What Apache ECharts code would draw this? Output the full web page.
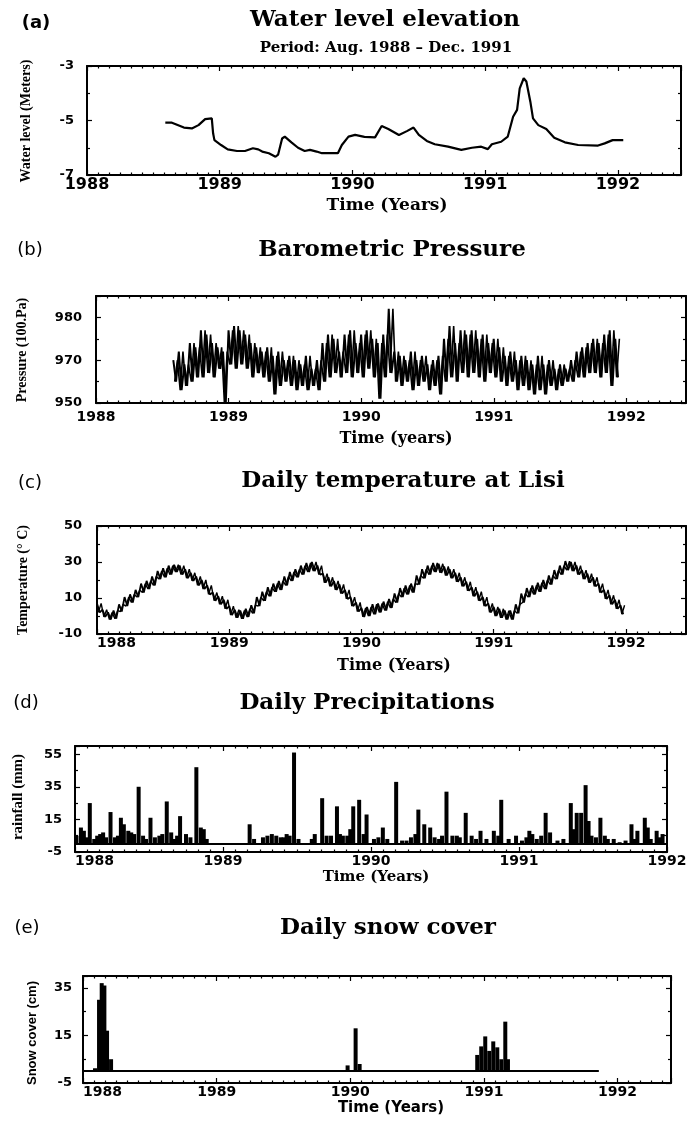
<!DOCTYPE html>
<html><head><meta charset="utf-8">
<script src="https://cdn.jsdelivr.net/npm/echarts@6/dist/echarts.min.js"></script>
<style>html,body{margin:0;padding:0;background:#fff}#c{width:687px;height:1124px}</style>
</head><body><div id="c"></div>
<script>
// ---------------- DATA ----------------
const yearLabels = [1988, 1989, 1990, 1991, 1992];

// (a) Water level (m)
const waterYears = [1988.59,1988.64,1988.73,1988.79,1988.84,1988.89,1988.94,1988.95,1988.96,1989.01,1989.06,1989.13,1989.19,1989.25,1989.29,1989.32,1989.37,1989.42,1989.44,1989.47,1989.49,1989.54,1989.59,1989.64,1989.68,1989.73,1989.77,1989.89,1989.92,1989.97,1990.02,1990.09,1990.17,1990.22,1990.27,1990.35,1990.41,1990.46,1990.50,1990.56,1990.62,1990.72,1990.82,1990.90,1990.97,1991.02,1991.05,1991.12,1991.17,1991.21,1991.24,1991.26,1991.29,1991.31,1991.34,1991.36,1991.40,1991.46,1991.52,1991.60,1991.70,1991.85,1991.90,1991.96,1992.04];
const waterLevel = [-5.08,-5.08,-5.26,-5.29,-5.17,-4.95,-4.92,-5.47,-5.72,-5.90,-6.06,-6.12,-6.12,-6.02,-6.06,-6.14,-6.20,-6.33,-6.25,-5.66,-5.59,-5.80,-6.00,-6.12,-6.08,-6.14,-6.20,-6.20,-5.90,-5.59,-5.53,-5.60,-5.62,-5.20,-5.31,-5.53,-5.39,-5.26,-5.53,-5.75,-5.87,-5.96,-6.08,-6.00,-5.96,-6.05,-5.87,-5.78,-5.59,-4.86,-4.61,-3.82,-3.45,-3.57,-4.31,-4.92,-5.17,-5.31,-5.63,-5.80,-5.90,-5.92,-5.84,-5.72,-5.72];

// (b) Barometric pressure: half-monthly high / low readings
const pressureStart = 1988.583;
const pressureStep = 1 / 24;
const pressureHigh = [970,972,969,974,973,977,976,974,973,972,977,978,977,976,974,973,972,973,971,972,970,971,970,969,971,968,970,974,976,975,972,976,977,974,976,977,975,974,976,982,972,971,970,972,970,971,969,970,971,975,978,974,977,976,977,975,976,974,975,973,971,972,970,971,970,969,971,969,970,968,969,968,970,972,973,974,975,974,976,977,975];
const pressureLow = [965,963,964,965,966,966,967,966,968,960,969,968,969,968,966,967,966,965,962,964,965,964,963,964,963,964,963,965,966,967,966,967,966,967,966,968,966,961,966,967,965,964,965,963,964,965,963,964,962,965,966,965,967,966,967,966,965,967,966,965,964,965,963,964,963,962,963,962,964,963,964,965,965,966,966,967,967,966,967,964,966];
const pressureTickText = {960: '950', 970: '970', 980: '980'};

// (c) Daily temperature: half-monthly high / low readings (deg C)
const tempStart = 1988.0;
const tempStep = 1 / 24;
const tempHigh = [7,3.5,2,3,6.5,10.5,12,14.5,18,19.5,22,25,26.5,28,28.5,28,26,24,22,20,17,13,11,9,5.5,3.5,3,4,6,10.5,13.5,16,18,19.5,22,24.5,26,28,29.5,30,28,23.5,21.5,19.5,17.5,14.5,10.5,7.5,4.5,5,6.5,7,8,9.5,12.5,15.5,17,18,22.5,26,28,29.5,29,27.5,26,24,21.5,19,16,13.5,10.5,7,5,4,3,3,6.5,12.5,15.5,17,18.5,20,22.5,25.5,28,30.5,30,28,25.5,23.5,21.5,18,14.5,11.5,9,6];
const tempLow = [2,-0.5,-2,-1.5,2.5,5.5,7.5,10.5,13,15,17,20.5,21.5,23,24.5,23,21,19.5,17,15,12,8.5,6.5,4,0.5,-1,-1.5,-0.5,1.5,5.5,8.5,11,13.5,14.5,17,19.5,21.5,23,24.5,25,23,18.5,16.5,14.5,12.5,9.5,5.5,2.5,-0.5,0,1,2,3,4.5,7.5,10.5,12,13,17.5,21,23,24.5,24,22.5,21,19,16.5,14,11,8.5,5.5,2,0,-1,-2,-2,1.5,7.5,10.5,12,13.5,15,17.5,20.5,23,25.5,25,23,20.5,18.5,16.5,13,9.5,6.5,4,1];

// (d) Daily precipitation (mm)
const precipYears = [1988.01,1988.04,1988.06,1988.10,1988.13,1988.17,1988.19,1988.21,1988.24,1988.27,1988.31,1988.33,1988.36,1988.38,1988.43,1988.46,1988.51,1988.54,1988.57,1988.62,1988.65,1988.67,1988.71,1988.78,1988.82,1988.85,1988.87,1989.18,1989.21,1989.30,1989.33,1989.36,1989.39,1989.43,1989.48,1989.51,1989.62,1989.67,1989.70,1989.77,1989.81,1989.84,1989.88,1989.92,1989.97,1990.02,1990.08,1990.17,1990.21,1990.27,1990.32,1990.36,1990.40,1990.43,1990.48,1990.51,1990.55,1990.58,1990.64,1990.68,1990.74,1990.78,1990.83,1990.88,1990.93,1990.98,1991.02,1991.07,1991.09,1991.18,1991.21,1991.26,1991.35,1991.39,1991.42,1991.45,1991.49,1991.55,1991.60,1991.64,1991.68,1991.76,1991.80,1991.85,1991.89,1991.93,1991.97,
  1988.08,1988.15,1988.29,1988.40,1988.48,1988.59,1988.69,1988.75,1988.89,1989.27,1989.41,1989.45,1989.60,1989.73,1989.79,1989.86,1989.95,1990.05,1990.11,1990.24,1990.30,1990.46,1990.60,1990.71,1990.86,1991.05,1991.12,1991.15,1991.30,1991.37,1991.47,1991.52,1991.58,1991.72,1991.78,1991.87,1991.95];
const precipMm = [5,10,8,25,3,6,7,4,19.5,4,16,12,8,7,35,5,16,4,5,26,7,3,17,4,47,10,9,12,3,5,6,5,4,6,56,3,6,28,5,23,5,5,23,27,18,3,10,38,2,4,21,12,10,4,5,32,5,5,19,5,8,3,8,27,3,5,2,8,6,19,7,2,25,19,19,36,5,16,3,3,1,12,8,16,3,8,6,
  4,5,5,6,3,6,5,6,3,4,4,5,3,5,6,9,6,4,3,2,6,3,4,3,5,4,3,5,3,9,14,4,5,2,3,10,4];

// (e) Daily snow cover (cm)
const snowYears = [1988.09,1988.12,1988.14,1988.16,1988.18,1988.21,1989.98,1990.04,1990.07,1990.95,1990.98,1991.01,1991.04,1991.07,1991.10,1991.13,1991.16,1991.18];
const snowCm = [1.2,30,37,36,17,5,2.4,18,3,6.8,10.4,14.6,8.5,12.5,10,5,20.8,5];
const snowSpan = [1988.0, 1991.86];

// ---------------- BUILD ----------------
// hi/lo readings drawn as a dense up-down trace (two interleaved passes)
function zigzag(start, step, hi, lo, phase) {
  const out = [];
  for (let i = 0; i < hi.length; i++) {
    const t = start + i * step + phase * step;
    if (phase === 0) { out.push([t, hi[i]]); out.push([t + step / 2, lo[i]]); }
    else { out.push([t, lo[i]]); out.push([t + step / 2, hi[i]]); }
  }
  return out;
}
const pairs = (xs, ys) => xs.map((x, i) => [x, ys[i]]);

const grids = [
  {left: 87, top: 66, width: 594, height: 109, xmax: 1992.475, ymin: -7, ymax: -3, yint: 2, xfs: 16, xmargin: 2, ymargin: 13, alignMin: 'center'},
  {left: 96, top: 296, width: 590, height: 107, xmax: 1992.45, ymin: 960, ymax: 985, yint: 10, xfs: 14, xmargin: 7, ymargin: 14, alignMin: 'center'},
  {left: 97, top: 526, width: 589, height: 108, xmax: 1992.454, ymin: -10, ymax: 50, yint: 20, xfs: 14, xmargin: 2, ymargin: 15, alignMin: 'left'},
  {left: 75, top: 746, width: 592, height: 106, xmax: 1992, ymin: -5, ymax: 60, yint: 20, xfs: 14, xmargin: 2, ymargin: 13, alignMin: 'left'},
  {left: 83, top: 976, width: 588, height: 107, xmax: 1992.4, ymin: -5, ymax: 40, yint: 20, xfs: 14, xmargin: 2, ymargin: 11, alignMin: 'left'}
];

const lineS = {color: '#000', width: 2};
const tickS = {color: '#000', width: 1.2};
const xAxes = [], yAxes = [];
grids.forEach((g, i) => {
  const xl = {
    type: 'value', gridIndex: i, min: 1988, max: g.xmax, interval: 1,
    axisLine: {show: true, onZero: false, lineStyle: lineS},
    splitLine: {show: false},
    axisTick: {show: true, inside: true, length: 5, lineStyle: tickS},
    minorTick: {show: true, splitNumber: 12, length: 2.5, lineStyle: tickS}
  };
  xAxes.push(Object.assign({}, xl, {
    position: 'bottom',
    axisLabel: {show: true, margin: g.xmargin, color: '#000', fontFamily: 'DejaVu Sans', fontWeight: 'bold', fontSize: g.xfs,
      alignMinLabel: g.alignMin,
      formatter: v => (Math.abs(v - Math.round(v)) < 1e-6 && yearLabels.indexOf(Math.round(v)) >= 0) ? String(Math.round(v)) : ''}
  }));
  xAxes.push(Object.assign({}, xl, {position: 'top', axisLabel: {show: false}}));
  const yl = {
    type: 'value', gridIndex: i, min: g.ymin, max: g.ymax, interval: g.yint,
    axisLine: {show: true, onZero: false, lineStyle: lineS},
    splitLine: {show: false},
    axisTick: {show: true, inside: true, length: 5, lineStyle: tickS},
    minorTick: {show: true, splitNumber: 2, length: 3, lineStyle: tickS}
  };
  yAxes.push(Object.assign({}, yl, {
    position: 'left',
    axisLabel: {show: true, margin: g.ymargin, color: '#000', fontFamily: 'DejaVu Sans', fontWeight: 'bold', fontSize: 13,
      formatter: v => {
        if (i === 1) return pressureTickText[v] || '';
        const k = Math.round((v - g.ymin) / g.yint);
        return Math.abs(g.ymin + k * g.yint - v) < 1e-6 ? String(v) : '';
      }}
  }));
  yAxes.push(Object.assign({}, yl, {position: 'right', axisLabel: {show: false}}));
});

function txt(x, y, text, font, rot) {
  return {type: 'text', x: x, y: y, rotation: rot || 0, silent: true,
    style: {text: text, fill: '#000', align: 'center', verticalAlign: 'middle', font: font}};
}
const serifTitle = 'bold 23px "DejaVu Serif"';
const graphics = [
  txt(36, 23, '(a)', 'bold 18px "DejaVu Sans"'),
  txt(385, 20, 'Water level elevation', serifTitle),
  txt(386, 48, 'Period: Aug. 1988 \u2013 Dec. 1991', 'bold 15px "DejaVu Serif"'),
  txt(26, 121, 'Water level (Meters)', 'bold 14px "Liberation Serif"', Math.PI / 2),
  txt(387, 206, 'Time (Years)', 'bold 17px "DejaVu Serif"'),

  txt(30, 250, '(b)', '18px "DejaVu Sans"'),
  txt(392, 250, 'Barometric Pressure', serifTitle),
  txt(22, 350, 'Pressure (100.Pa)', 'bold 14px "Liberation Serif"', Math.PI / 2),
  txt(396, 439, 'Time (years)', 'bold 16px "DejaVu Serif"'),

  txt(30, 483, '(c)', '18px "DejaVu Sans"'),
  txt(403, 481, 'Daily temperature at Lisi', serifTitle),
  txt(23, 580, 'Temperature (\u00b0 C)', 'bold 14px "Liberation Serif"', Math.PI / 2),
  txt(394, 666, 'Time (Years)', 'bold 16px "DejaVu Serif"'),

  txt(26, 703, '(d)', '18px "DejaVu Sans"'),
  txt(367, 703, 'Daily Precipitations', serifTitle),
  txt(18, 797, 'rainfall (mm)', 'bold 15px "Liberation Serif"', Math.PI / 2),
  txt(376, 877, 'Time (Years)', 'bold 15px "DejaVu Serif"'),

  txt(27, 928, '(e)', '18px "DejaVu Sans"'),
  txt(388, 928, 'Daily snow cover', serifTitle),
  txt(32, 1033, 'Snow cover (cm)', 'bold 13px "Liberation Sans"', Math.PI / 2),
  txt(391, 1108, 'Time (Years)', 'bold 15px "DejaVu Sans"')
];

const traceStyle = w => ({color: '#000', width: w});
const option = {
  animation: false,
  backgroundColor: '#fff',
  grid: grids.map(g => ({left: g.left, top: g.top, width: g.width, height: g.height, containLabel: false, outerBoundsMode: 'none', show: false})),
  xAxis: xAxes,
  yAxis: yAxes,
  graphic: graphics,
  series: [
    {type: 'line', name: 'Water level', xAxisIndex: 0, yAxisIndex: 0, data: pairs(waterYears, waterLevel),
      showSymbol: false, lineStyle: traceStyle(2.2)},
    {type: 'line', name: 'Pressure', xAxisIndex: 2, yAxisIndex: 2, data: zigzag(pressureStart, pressureStep, pressureHigh, pressureLow, 0),
      showSymbol: false, lineStyle: traceStyle(2)},
    {type: 'line', name: 'Pressure (2)', xAxisIndex: 2, yAxisIndex: 2, data: zigzag(pressureStart, pressureStep, pressureHigh, pressureLow, 0.25),
      showSymbol: false, lineStyle: traceStyle(1.6)},
    {type: 'line', name: 'Temperature', xAxisIndex: 4, yAxisIndex: 4, data: zigzag(tempStart, tempStep, tempHigh, tempLow, 0),
      showSymbol: false, lineStyle: traceStyle(1.8)},
    {type: 'line', name: 'Temperature (2)', xAxisIndex: 4, yAxisIndex: 4, data: zigzag(tempStart, tempStep, tempHigh, tempLow, 0.25),
      showSymbol: false, lineStyle: traceStyle(1.4)},
    {type: 'bar', name: 'Precipitation', xAxisIndex: 6, yAxisIndex: 6, data: pairs(precipYears, precipMm),
      barWidth: 4, itemStyle: {color: '#000'},
      markLine: {silent: true, symbol: 'none', label: {show: false}, lineStyle: {color: '#000', width: 2, type: 'solid'},
        data: [{yAxis: 0}]}},
    {type: 'bar', name: 'Snow cover', xAxisIndex: 8, yAxisIndex: 8, data: pairs(snowYears, snowCm),
      barWidth: 4, itemStyle: {color: '#000'},
      markLine: {silent: true, symbol: 'none', label: {show: false}, lineStyle: {color: '#000', width: 2, type: 'solid'},
        data: [[{coord: [snowSpan[0], 0]}, {coord: [snowSpan[1], 0]}]]}}
  ]
};
const chart = echarts.init(document.getElementById('c'), null, {renderer: 'canvas'});
chart.setOption(option);
</script></body></html>
